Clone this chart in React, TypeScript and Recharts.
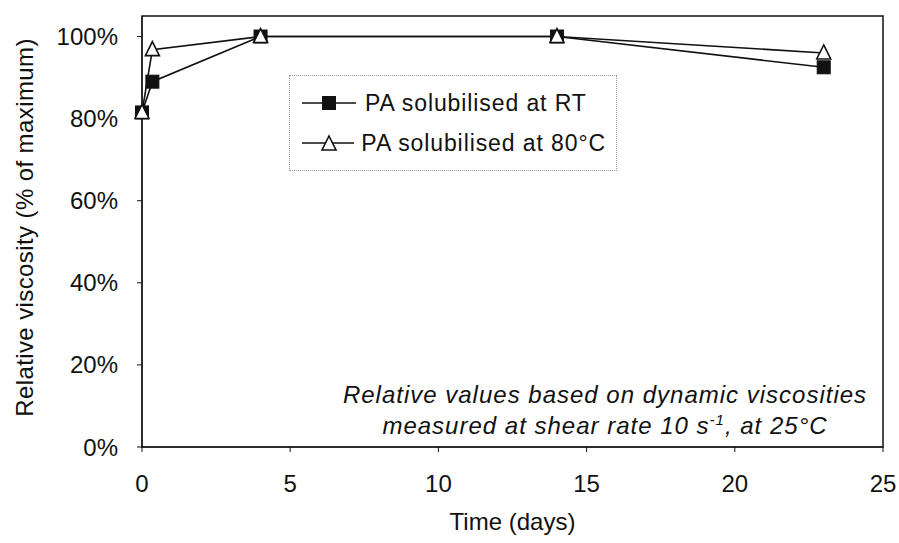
import { LineChart, Line, XAxis, YAxis, ReferenceArea, Label } from "recharts"

// time in days
const days = [0, 0.35, 4, 14, 23]
// relative viscosity, % of maximum
const rtValues = [81.5, 89, 100, 100, 92.5]
const hotValues = [81.5, 96.8, 100, 100, 96]
const xTicks = [0, 5, 10, 15, 20, 25]
const yTicks = [0, 20, 40, 60, 80, 100]
const seriesNames = ["PA solubilised at RT", "PA solubilised at 80°C"]

const data = days.map((d, i) => ({ day: d, rt: rtValues[i], hot: hotValues[i] }))

const FONT = "'Liberation Sans', Arial, sans-serif"

function SquareDot(props: any) {
    const { cx, cy } = props
    if (cx == null || cy == null) return null
    return <rect x={cx - 6.5} y={cy - 6.5} width={13} height={13} fill="#111" stroke="#111" />
}

function TriangleDot(props: any) {
    const { cx, cy } = props
    if (cx == null || cy == null) return null
    return (
        <path
            d={`M${cx},${cy - 8} L${cx + 7},${cy + 6} L${cx - 7},${cy + 6} Z`}
            fill="#fff"
            stroke="#111"
            strokeWidth={1.6}
        />
    )
}

function LegendBox() {
    const row = (i: number) => (
        <div style={{ display: "flex", alignItems: "center", height: 40, whiteSpace: "nowrap" }}>
            <svg width={58} height={20}>
                <line x1={2} x2={56} y1={10} y2={10} stroke="#111" strokeWidth={1.5} />
                {i === 0 ? <SquareDot cx={29} cy={10} /> : <TriangleDot cx={29} cy={11} />}
            </svg>
            <span style={{ marginLeft: 7, fontSize: 23, letterSpacing: 0.9, color: "#111", fontFamily: FONT }}>
                {seriesNames[i]}
            </span>
        </div>
    )
    return (
        <div
            style={{
                position: "absolute",
                left: 289,
                top: 75,
                border: "1px dotted #999",
                padding: "7px 10px",
                width: 328,
                boxSizing: "border-box",
            }}
        >
            {row(0)}
            {row(1)}
        </div>
    )
}

export default function App() {
    return (
        <div style={{ position: "absolute", left: 0, top: 0, width: 899, height: 543, background: "#fff", fontFamily: FONT }}>
            <LineChart width={899} height={543} data={data} margin={{ top: 16, right: 16, bottom: 36, left: 10 }}>
                <XAxis
                    dataKey="day"
                    type="number"
                    domain={[0, 25]}
                    ticks={xTicks}
                    height={60}
                    tickSize={5}
                    tickMargin={23}
                    stroke="#111"
                    tick={{ fill: "#111", fontSize: 24, fontFamily: FONT }}
                >
                    <Label
                        content={({ viewBox }: any) => (
                            <text
                                x={viewBox.x + viewBox.width / 2}
                                y={viewBox.y + 83}
                                textAnchor="middle"
                                fontSize={24}
                                fill="#111"
                                fontFamily={FONT}
                            >
                                Time (days)
                            </text>
                        )}
                    />
                </XAxis>
                <YAxis
                    type="number"
                    domain={[0, 105]}
                    ticks={yTicks}
                    width={132}
                    tickSize={5}
                    tickMargin={19}
                    stroke="#111"
                    tickFormatter={(v) => `${v}%`}
                    tick={{ fill: "#111", fontSize: 24, fontFamily: FONT }}
                >
                    <Label
                        content={({ viewBox }: any) => {
                            const x = viewBox.x + 17
                            const y = viewBox.y + viewBox.height / 2 - 4
                            return (
                                <text
                                    x={x}
                                    y={y}
                                    transform={`rotate(-90 ${x} ${y})`}
                                    textAnchor="middle"
                                    dominantBaseline="middle"
                                    fontSize={24}
                                    letterSpacing={0.4}
                                    fill="#111"
                                    fontFamily={FONT}
                                >
                                    Relative viscosity (% of maximum)
                                </text>
                            )
                        }}
                    />
                </YAxis>
                <ReferenceArea x1={0} x2={25} y1={0} y2={105} fill="none" stroke="#111" strokeWidth={1.5} />
                <Line
                    dataKey="rt"
                    name={seriesNames[0]}
                    stroke="#111"
                    strokeWidth={1.6}
                    dot={<SquareDot />}
                    isAnimationActive={false}
                />
                <Line
                    dataKey="hot"
                    name={seriesNames[1]}
                    stroke="#111"
                    strokeWidth={1.6}
                    dot={<TriangleDot />}
                    isAnimationActive={false}
                />
            </LineChart>
            <LegendBox />
            <div
                style={{
                    position: "absolute",
                    left: 305,
                    top: 379,
                    width: 600,
                    textAlign: "center",
                    fontStyle: "italic",
                    fontSize: 24,
                    lineHeight: "31px",
                    letterSpacing: 1,
                    color: "#111",
                }}
            >
                Relative values based on dynamic viscosities
                <br />
                measured at shear rate 10 s<sup style={{ fontSize: 15, lineHeight: 0 }}>-1</sup>, at 25°C
            </div>
        </div>
    )
}
